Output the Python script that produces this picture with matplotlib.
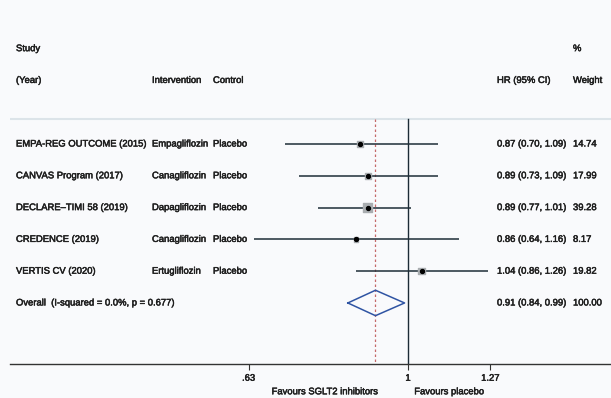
import numpy as np
import matplotlib.pyplot as plt
import matplotlib.transforms as mtransforms
import matplotlib.patheffects as pe

# forest plot data
studies = ["EMPA-REG OUTCOME (2015)", "CANVAS Program (2017)", "DECLARE\u2013TIMI 58 (2019)",
           "CREDENCE (2019)", "VERTIS CV (2020)"]
interventions = ["Empagliflozin", "Canagliflozin", "Dapagliflozin", "Canagliflozin", "Ertugliflozin"]
controls = ["Placebo", "Placebo", "Placebo", "Placebo", "Placebo"]
hr = [0.87, 0.89, 0.89, 0.86, 1.04]
lo = [0.70, 0.73, 0.77, 0.64, 0.86]
hi = [1.09, 1.09, 1.01, 1.16, 1.26]
weights = [14.74, 17.99, 39.28, 8.17, 19.82]

overall_label = "Overall  (I-squared = 0.0%, p = 0.677)"
overall_hr = 0.91
overall_lo = 0.84
overall_hi = 0.99

tick_vals = [0.63, 1, 1.27]
tick_labels = [".63", "1", "1.27"]

bg = "#f9fafc"
txt = "#1e1e1e"
fs = 6.8
fam = "Liberation Sans"
thick = [pe.withStroke(linewidth=0.35, foreground=txt)]

fig = plt.figure(figsize=(6.11, 3.98), dpi=100, facecolor=bg)
ax = fig.add_axes([10 / 611, 34 / 398, 601 / 611, 364 / 398])
ax.set_facecolor(bg)
ax.set_xscale("log")
ax.set_xlim(0.3155, 1.801)
ax.set_ylim(6.92, -4.53)

for s in ["top", "right", "left"]:
    ax.spines[s].set_visible(False)
ax.spines["bottom"].set_color("#333333")
ax.spines["bottom"].set_linewidth(1.0)
ax.set_yticks([])
ax.minorticks_off()
ax.set_xticks(tick_vals)
ax.set_xticklabels(tick_labels, fontsize=fs, color=txt, family=fam)
for lab in ax.get_xticklabels():
    lab.set_path_effects(thick)
ax.tick_params(axis="x", length=4, width=0.8, color="#333333", pad=3)

rows = np.arange(len(studies))

# separator and reference lines
ax.axhline(-0.8, color="#dce4e9", lw=1.5)
ax.plot([1, 1], [-0.8, 6.92], color="#1c2b36", lw=1.0)
ax.plot([overall_hr, overall_hr], [-0.8, 6.92], color="#c46a6a", lw=0.9, ls=(0, (2, 2)))

# confidence intervals, weighted boxes, point estimates
ax.hlines(rows, lo, hi, color="#1f2e38", lw=1.1)
ax.scatter(hr, rows, marker="s", s=[1.14 * w for w in weights], color="#a9adb0", zorder=3)
ax.scatter(hr, rows, marker="o", s=8, color="black", zorder=4)

# overall diamond
oy = len(studies)
ax.plot([overall_lo, overall_hr, overall_hi, overall_hr, overall_lo],
        [oy, oy - 0.4, oy, oy + 0.4, oy], color="#2f54a3", lw=1.1)

# text columns
tr = mtransforms.blended_transform_factory(fig.transFigure, ax.transData)
kw = dict(transform=tr, fontsize=fs, color=txt, va="center", family=fam, path_effects=thick)
ax.text(16 / 611, -3, "Study", **kw)
ax.text(16 / 611, -2, "(Year)", **kw)
ax.text(152 / 611, -2, "Intervention", **kw)
ax.text(213 / 611, -2, "Control", **kw)
ax.text(497 / 611, -2, "HR (95% CI)", **kw)
ax.text(573 / 611, -3, "%", **kw)
ax.text(573 / 611, -2, "Weight", **kw)

for i in rows:
    ax.text(16 / 611, i, studies[i], **kw)
    ax.text(152 / 611, i, interventions[i], **kw)
    ax.text(213 / 611, i, controls[i], **kw)
    ax.text(497 / 611, i, "%.2f (%.2f, %.2f)" % (hr[i], lo[i], hi[i]), **kw)
    ax.text(573 / 611, i, "%.2f" % weights[i], **kw)

ax.text(16 / 611, oy, overall_label, **kw)
ax.text(497 / 611, oy, "%.2f (%.2f, %.2f)" % (overall_hr, overall_lo, overall_hi), **kw)
ax.text(573 / 611, oy, "%.2f" % sum(weights), **kw)

# favours labels under the axis
ax.annotate("Favours SGLT2 inhibitors", xy=(1, 0), xycoords=("data", "axes fraction"),
            xytext=(-21, -20), textcoords="offset points", ha="right", va="center",
            fontsize=fs, color=txt, family=fam, path_effects=thick)
ax.annotate("Favours placebo", xy=(1, 0), xycoords=("data", "axes fraction"),
            xytext=(4.5, -20), textcoords="offset points", ha="left", va="center",
            fontsize=fs, color=txt, family=fam, path_effects=thick)

fig.savefig("out.png", dpi=100, facecolor=bg)
